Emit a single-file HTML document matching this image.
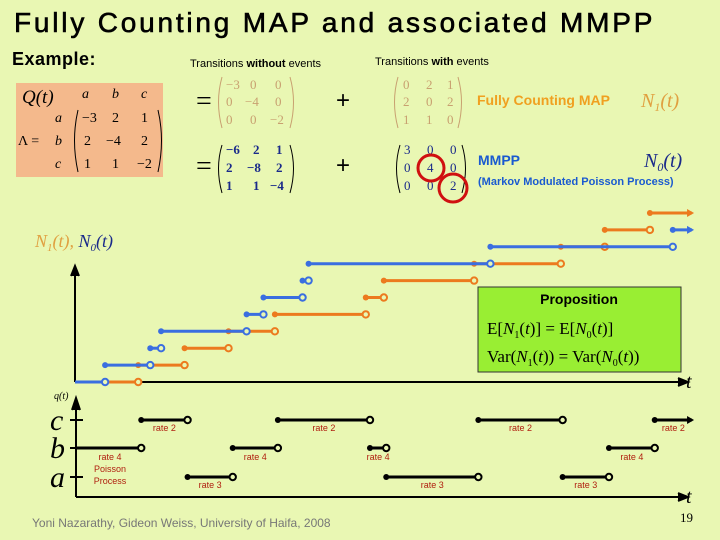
<!DOCTYPE html>
<html><head><meta charset="utf-8"><style>
html,body{margin:0;padding:0;background:#e9f7b3;}
svg{display:block;}
.ser{font-family:"Liberation Serif",serif;}
.sans{font-family:"Liberation Sans",sans-serif;}
</style></head><body>
<svg id="s" width="720" height="540" viewBox="0 0 720 540" xmlns="http://www.w3.org/2000/svg">
<rect width="720" height="540" fill="#e9f7b3"/>
<text x="14" y="32" class="sans" font-size="28" letter-spacing="2.8" fill="#000" stroke="#000" stroke-width="0.6">Fully Counting MAP and associated MMPP</text>
<text x="12" y="65" class="sans" font-size="18" font-weight="bold" letter-spacing="0.5">Example:</text>
<text x="190" y="67" class="sans" font-size="11">Transitions <tspan font-weight="bold">without</tspan> events</text>
<text x="375" y="65" class="sans" font-size="11">Transitions <tspan font-weight="bold">with</tspan> events</text>

<g>
<rect x="16" y="83" width="147" height="94" fill="#f4b98c"/>
<g class="ser" font-size="14">
<text x="22" y="103" font-size="19" font-style="italic">Q(t)</text>
<text x="82" y="98" font-style="italic">a</text><text x="112" y="98" font-style="italic">b</text><text x="141" y="98" font-style="italic">c</text>
<text x="55" y="122" font-style="italic">a</text><text x="55" y="145" font-style="italic">b</text><text x="55" y="168" font-style="italic">c</text>
<text x="18" y="145">Λ =</text>
<text x="82" y="122">−3</text><text x="112" y="122">2</text><text x="141" y="122">1</text>
<text x="84" y="145">2</text><text x="106" y="145">−4</text><text x="141" y="145">2</text>
<text x="84" y="168">1</text><text x="112" y="168">1</text><text x="137" y="168">−2</text>
<path d="M78 110 Q71 140 78 172 M158 110 Q165 140 158 172" stroke="#000" fill="none"/>
</g></g>

<g class="ser" font-size="13" fill="#c8a070">
<text x="196" y="110" font-size="28" fill="#000">=</text>
<path d="M222 77 Q215 102 222 128 M290 77 Q297 102 290 128" stroke="#c8a070" fill="none"/>
<text x="226" y="89">−3</text><text x="250" y="89">0</text><text x="275" y="89">0</text>
<text x="226" y="106">0</text><text x="245" y="106">−4</text><text x="275" y="106">0</text>
<text x="226" y="124">0</text><text x="250" y="124">0</text><text x="270" y="124">−2</text>
</g>
<g class="ser" font-size="13" font-weight="bold" fill="#1a2a8a">
<text x="196" y="175" font-size="28" font-weight="normal" fill="#000">=</text>
<path d="M222 145 Q215 168 222 193 M290 145 Q297 168 290 193" stroke="#000" fill="none"/>
<text x="226" y="154">−6</text><text x="253" y="154">2</text><text x="276" y="154">1</text>
<text x="226" y="172">2</text><text x="247" y="172">−8</text><text x="276" y="172">2</text>
<text x="226" y="190">1</text><text x="253" y="190">1</text><text x="270" y="190">−4</text>
</g>
<text x="336" y="108" class="sans" font-size="24">+</text>
<text x="336" y="173" class="sans" font-size="24">+</text>

<g class="ser" font-size="13" fill="#c8a070">
<path d="M398 77 Q391 102 398 128 M458 77 Q465 102 458 128" stroke="#c8a070" fill="none"/>
<text x="403" y="89">0</text><text x="426" y="89">2</text><text x="447" y="89">1</text>
<text x="403" y="106">2</text><text x="426" y="106">0</text><text x="447" y="106">2</text>
<text x="403" y="124">1</text><text x="426" y="124">1</text><text x="447" y="124">0</text>
</g>
<g class="ser" font-size="13" fill="#1a2a8a">
<path d="M400 145 Q393 168 400 193 M462 145 Q469 168 462 193" stroke="#000" fill="none"/>
<text x="404" y="154">3</text><text x="427" y="154">0</text><text x="450" y="154">0</text>
<text x="404" y="172">0</text><text x="427" y="172">4</text><text x="450" y="172">0</text>
<text x="404" y="190">0</text><text x="427" y="190">0</text><text x="450" y="190">2</text>
<circle cx="431" cy="168" r="13" fill="none" stroke="#d01010" stroke-width="3"/>
<circle cx="453" cy="188" r="14" fill="none" stroke="#d01010" stroke-width="3"/>
</g>
<text x="477" y="105" class="sans" font-size="14" font-weight="bold" fill="#f0a020">Fully Counting MAP</text>
<text x="641" y="107" class="ser" font-size="20" font-style="italic" fill="#e0a040">N<tspan font-size="12" dy="4">1</tspan><tspan dy="-4">(t)</tspan></text>
<text x="478" y="165" class="sans" font-size="14" font-weight="bold" fill="#1a5ad0">MMPP</text>
<text x="644" y="167" class="ser" font-size="20" font-style="italic" fill="#1a2a8a">N<tspan font-size="12" dy="4">0</tspan><tspan dy="-4">(t)</tspan></text>
<text x="478" y="185" class="sans" font-size="11" font-weight="bold" fill="#1a5ad0">(Markov Modulated Poisson Process)</text>

<text x="35" y="247" class="ser" font-size="18" font-style="italic"><tspan fill="#e0a040">N<tspan font-size="11" dy="4">1</tspan><tspan dy="-4">(t),</tspan></tspan><tspan fill="#1a2a8a"> N<tspan font-size="11" dy="4">0</tspan><tspan dy="-4">(t)</tspan></tspan></text>

<g id="count-chart"></g>
<g id="q-chart"></g>

<g>
<rect x="478" y="287" width="203" height="85" fill="#99ee33" stroke="#333" stroke-width="1"/>
<text x="579" y="304" text-anchor="middle" class="sans" font-size="14" font-weight="bold">Proposition</text>
<text x="487" y="334" class="ser" font-size="17">E[<tspan font-style="italic">N</tspan><tspan font-size="10" dy="4">1</tspan><tspan dy="-4">(<tspan font-style="italic">t</tspan>)] =  E[<tspan font-style="italic">N</tspan></tspan><tspan font-size="10" dy="4">0</tspan><tspan dy="-4">(<tspan font-style="italic">t</tspan>)]</tspan></text>
<text x="487" y="362" class="ser" font-size="17">Var(<tspan font-style="italic">N</tspan><tspan font-size="10" dy="4">1</tspan><tspan dy="-4">(<tspan font-style="italic">t</tspan>)) =  Var(<tspan font-style="italic">N</tspan></tspan><tspan font-size="10" dy="4">0</tspan><tspan dy="-4">(<tspan font-style="italic">t</tspan>))</tspan></text>
</g>

<text x="32" y="527" class="sans" font-size="12" fill="#777">Yoni Nazarathy, Gideon Weiss, University of Haifa, 2008</text>
<text x="680" y="522" class="ser" font-size="13">19</text>
</svg>
<script>
// counting process data (time units), jump times
const blueJumps = [5, 12.5, 14.3, 28.5, 31.3, 37.8, 38.8, 69, 99.3];
const orangeJumps = [10.5, 18.2, 25.5, 33.2, 48.3, 51.3, 66.3, 80.7, 88, 95.5];
const tEnd = 102.5;
// state process data
const qStates = ['b','c','a','b','c','b','a','c','a','b','c'];
const qStarts = [0, 11, 18.7, 26.2, 33.7, 49, 51.7, 67, 81, 88.7, 96.3];
const qRates = {a:'rate 3', b:'rate 4', c:'rate 2'};
const levelNames = ['a','b','c'];

const NS='http://www.w3.org/2000/svg';
const X0=75, XS=6.02;
const xs=t=>X0+t*XS;
const yCount=k=>382-k*16.9;
const qY={a:477,b:448,c:420};
function mk(tag,attrs,parent){const e=document.createElementNS(NS,tag);for(const k in attrs)e.setAttribute(k,attrs[k]);parent.appendChild(e);return e;}

const cc=document.getElementById('count-chart');
let ax=mk('path',{d:'M75 382 L75 268 M71 276 L75 266 L79 276 M75 382 L680 382 M678 378 L688 382 L678 386',stroke:'#000','stroke-width':2,fill:'#000'},cc);


let tl=mk('text',{x:686,y:388,'font-size':20,'font-style':'italic',class:'ser'},cc);tl.textContent='t';


function drawSteps(jumps,color,name){
  const pts=[0].concat(jumps);
  pts.forEach((t0,k)=>{
    const t1=k<jumps.length?jumps[k]:tEnd;
    const y=yCount(k);
    const g=mk('g',{},cc);
    
    
    mk('line',{x1:xs(t0),y1:y,x2:xs(t1),y2:y,stroke:color,'stroke-width':3},g);
    if(k>0) mk('circle',{cx:xs(t0),cy:y,r:3,fill:color},g);
    if(k<jumps.length) mk('circle',{cx:xs(t1),cy:y,r:3.2,fill:'#e9f7b3',stroke:color,'stroke-width':2},g);
    else mk('path',{d:`M${xs(t1)-5} ${y-4} L${xs(t1)+2} ${y} L${xs(t1)-5} ${y+4}Z`,fill:color},g);
  });
}
drawSteps(orangeJumps,'#ec7a1e','n1');
drawSteps(blueJumps,'#3a6ee0','n0');

const qc=document.getElementById('q-chart');
let qa=mk('path',{d:'M76 497 L76 402 M72 410 L76 398 L80 410 M76 497 L680 497 M678 493 L688 497 L678 501',stroke:'#000','stroke-width':2,fill:'#000'},qc);


let qt=mk('text',{x:54,y:399,'font-size':10,'font-style':'italic',class:'ser'},qc);qt.textContent='q(t)';


let qtl=mk('text',{x:686,y:503,'font-size':20,'font-style':'italic',class:'ser'},qc);qtl.textContent='t';


levelNames.forEach(n=>{
  const t=mk('text',{x:50,y:qY[n]+10,'font-size':30,'font-style':'italic',class:'ser'},qc);t.textContent=n;
  
  
  mk('line',{x1:70,y1:qY[n],x2:83,y2:qY[n],stroke:'#000','stroke-width':2},qc);
});
qStates.forEach((s,i)=>{
  const t0=qStarts[i], last=i===qStates.length-1, t1=last?tEnd:qStarts[i+1];
  const y=qY[s];
  const g=mk('g',{},qc);
  
  
  mk('line',{x1:xs(t0),y1:y,x2:xs(t1),y2:y,stroke:'#000','stroke-width':3},g);
  if(i>0) mk('circle',{cx:xs(t0),cy:y,r:3,fill:'#000'},g);
  if(!last) mk('circle',{cx:xs(t1),cy:y,r:3.2,fill:'#e9f7b3',stroke:'#000','stroke-width':2},g);
  else mk('path',{d:`M${xs(t1)-5} ${y-4} L${xs(t1)+2} ${y} L${xs(t1)-5} ${y+4}Z`,fill:'#000'},g);
  const lx=i===0?110:(xs(t0)+xs(t1))/2;
  const ly=s==='c'?y+11:(s==='b'?y+12:y+11);
  const lab=mk('text',{x:lx,y:ly,'font-size':9,fill:'#b02010','text-anchor':'middle',class:'sans'},g);
  lab.textContent=qRates[s];
  if(i===0){
    const p1=mk('text',{x:lx,y:ly+12,'font-size':9,fill:'#b02010','text-anchor':'middle',class:'sans'},g);p1.textContent='Poisson';
    const p2=mk('text',{x:lx,y:ly+24,'font-size':9,fill:'#b02010','text-anchor':'middle',class:'sans'},g);p2.textContent='Process';
  }
});
</script>
</body></html>
